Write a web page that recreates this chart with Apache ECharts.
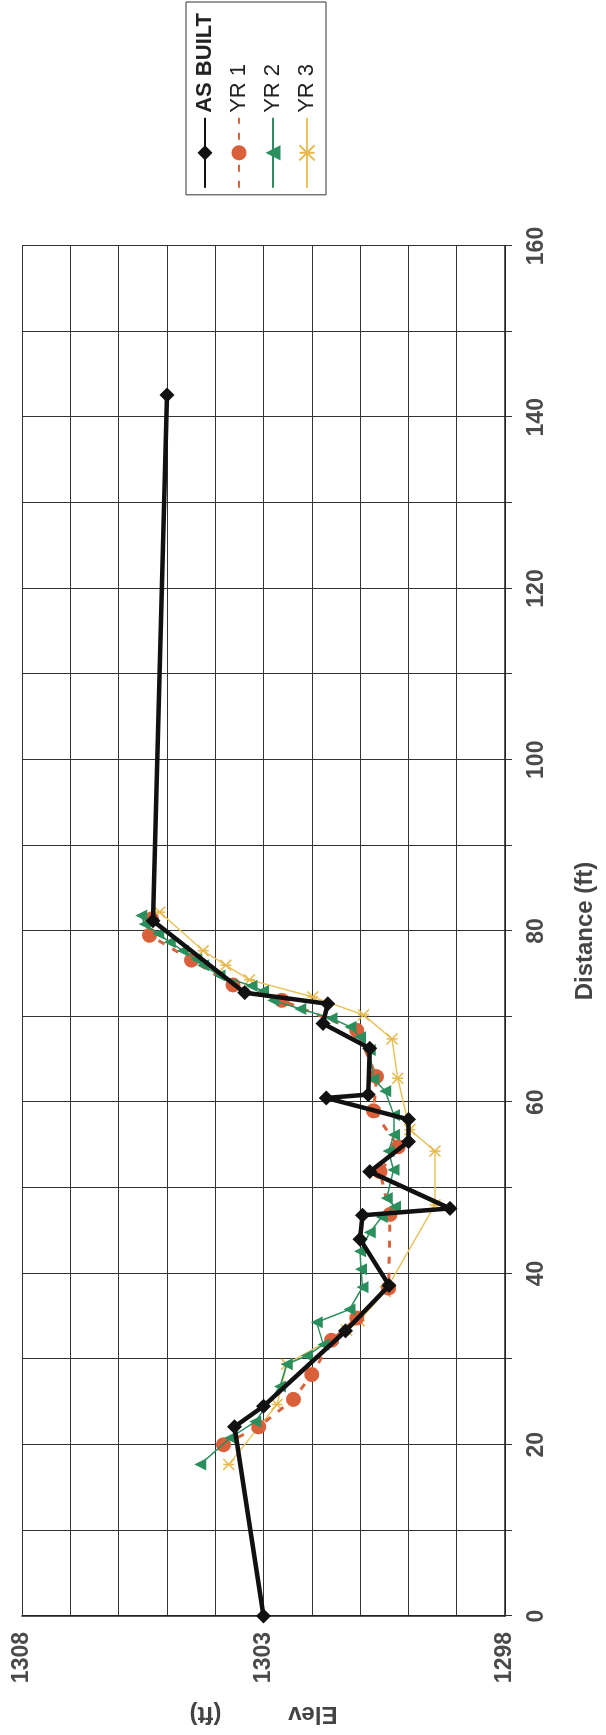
<!DOCTYPE html>
<html>
<head>
<meta charset="utf-8">
<script src="https://cdn.jsdelivr.net/npm/echarts@6/dist/echarts.min.js"></script>
<style>
html,body{margin:0;padding:0;background:#fff;width:606px;height:1735px;overflow:hidden;}
#chart{position:absolute;left:0;top:0;width:1735px;height:606px;transform-origin:0 0;transform:translate(0,1735px) rotate(-90deg);}
</style>
</head>
<body>
<div id="chart"></div>
<script>
// Distance (ft) and elevation (ft) for each survey
const asBuiltDist = [0, 22.1, 24.5, 33.3, 38.6, 44.0, 46.8, 47.6, 51.9, 55.4, 58.0, 60.5, 60.9, 66.3, 69.2, 71.5, 72.8, 81.2, 142.6];
const asBuiltElev = [1303.0, 1303.6, 1303.0, 1301.3, 1300.4, 1301.0, 1300.95, 1299.14, 1300.8, 1300.0, 1300.0, 1301.7, 1300.83, 1300.8, 1301.77, 1301.67, 1303.39, 1305.29, 1305.0];

const yr1Dist = [20.0, 22.1, 25.3, 28.2, 32.2, 34.8, 38.3, 46.9, 51.9, 54.8, 59.0, 63.0, 68.4, 71.9, 73.7, 76.6, 79.5, 81.4];
const yr1Elev = [1303.83, 1303.1, 1302.38, 1302.0, 1301.59, 1301.07, 1300.41, 1300.38, 1300.59, 1300.21, 1300.72, 1300.66, 1301.07, 1302.62, 1303.63, 1304.49, 1305.36, 1305.32];

const yr2Dist = [17.7, 20.8, 22.7, 26.8, 29.4, 30.4, 31.7, 34.3, 35.8, 38.4, 40.5, 42.6, 44.8, 46.6, 47.8, 48.8, 52.1, 54.3, 56.2, 58.5, 61.3, 62.7, 66.1, 67.6, 68.8, 69.8, 70.9, 71.9, 73.0, 73.6, 74.8, 76.0, 76.7, 77.7, 78.7, 79.7, 80.8, 81.8];
const yr2Elev = [1304.31, 1303.69, 1303.17, 1302.66, 1302.52, 1302.1, 1301.76, 1301.9, 1301.22, 1300.95, 1300.98, 1301.0, 1300.8, 1300.55, 1300.28, 1300.45, 1300.31, 1300.41, 1300.3, 1300.3, 1300.48, 1300.72, 1300.8, 1301.0, 1301.2, 1301.59, 1302.24, 1302.8, 1303.01, 1303.25, 1303.91, 1304.25, 1304.39, 1304.67, 1304.94, 1305.18, 1305.46, 1305.53];

const yr3Dist = [17.7, 24.7, 29.4, 33.4, 34.5, 37.9, 48.0, 54.3, 56.8, 62.8, 67.4, 70.2, 72.3, 74.3, 76.0, 77.7, 82.2];
const yr3Elev = [1303.72, 1302.72, 1302.52, 1301.28, 1301.02, 1300.48, 1299.45, 1299.45, 1299.97, 1300.22, 1300.34, 1300.93, 1301.98, 1303.29, 1303.78, 1304.25, 1305.15];

const distTickLabels = [0, 20, 40, 60, 80, 100, 120, 140, 160];
const elevTickLabels = [1298, 1303, 1308];
const seriesNames = ['AS BUILT', 'YR 1', 'YR 2', 'YR 3'];

function pairs(xs, ys) { return xs.map((x, i) => [x, ys[i]]); }

const FONT = '"Liberation Sans", Arial, sans-serif';
const chart = echarts.init(document.getElementById('chart'), null, {renderer: 'canvas'});

chart.setOption({
  backgroundColor: '#ffffff',
  animation: false,
  grid: {left: 119, right: 246, top: 22, bottom: 101, containLabel: false},
  legend: {
    orient: 'vertical',
    right: 2,
    top: 186,
    padding: [8, 11, 8, 6],
    itemGap: 12,
    itemWidth: 70,
    itemHeight: 19,
    borderColor: '#333',
    borderWidth: 1,
    backgroundColor: '#fff',
    textStyle: {fontFamily: FONT, fontSize: 22, color: '#222', lineHeight: 22},
    data: [
      {name: seriesNames[0], textStyle: {fontWeight: 'bold'}},
      {name: seriesNames[1]},
      {name: seriesNames[2]},
      {name: seriesNames[3]}
    ]
  },
  xAxis: {
    type: 'value',
    min: 0, max: 160, interval: 10,
    name: 'Distance (ft)',
    nameLocation: 'middle',
    nameGap: 68,
    nameTextStyle: {fontFamily: FONT, fontSize: 24, fontWeight: 'bold', color: '#444'},
    axisLine: {show: true, onZero: false, lineStyle: {color: '#222', width: 1.5}},
    axisTick: {show: true, inside: false, length: 7, lineStyle: {color: '#333', width: 1}},
    axisLabel: {
      margin: 20,
      fontFamily: FONT, fontSize: 23, fontWeight: 'bold', color: '#4a4a4a',
      formatter: v => distTickLabels.includes(v) ? String(v) : ''
    },
    splitLine: {show: true, lineStyle: {color: '#333', width: 1}}
  },
  yAxis: {
    type: 'value',
    min: 1298, max: 1308, interval: 1,
    name: 'Elev' + '\u00a0'.repeat(10) + '(ft)',
    nameLocation: 'middle',
    nameRotate: 90,
    nameGap: 86,
    nameTextStyle: {fontFamily: FONT, fontSize: 24, fontWeight: 'bold', color: '#444'},
    axisLine: {show: true, onZero: false, lineStyle: {color: '#222', width: 1.5}},
    axisTick: {show: false},
    axisLabel: {
      margin: 16,
      fontFamily: FONT, fontSize: 23, fontWeight: 'bold', color: '#4a4a4a',
      formatter: v => elevTickLabels.includes(v) ? String(v) : ''
    },
    splitLine: {show: true, lineStyle: {color: '#333', width: 1}}
  },
  series: [
    {
      name: seriesNames[3], type: 'line', z: 2,
      data: pairs(yr3Dist, yr3Elev),
      symbol: 'path://M0,0L10,10M10,0L0,10M5,0L5,10',
      symbolSize: 11,
      lineStyle: {color: '#e9c35e', width: 1.5},
      itemStyle: {color: 'rgba(0,0,0,0)', borderColor: '#e6b94a', borderWidth: 1.5}
    },
    {
      name: seriesNames[1], type: 'line', z: 3,
      data: pairs(yr1Dist, yr1Elev),
      symbol: 'circle', symbolSize: 15,
      lineStyle: {color: '#d6643f', width: 3, type: [7, 9]},
      itemStyle: {color: '#d9603b', borderWidth: 0}
    },
    {
      name: seriesNames[2], type: 'line', z: 4,
      data: pairs(yr2Dist, yr2Elev),
      symbol: 'triangle', symbolSize: 12,
      lineStyle: {color: '#2b8e5e', width: 1.5},
      itemStyle: {color: '#2a8f5c', borderWidth: 0}
    },
    {
      name: seriesNames[0], type: 'line', z: 5,
      data: pairs(asBuiltDist, asBuiltElev),
      symbol: 'diamond', symbolSize: 15,
      lineStyle: {color: '#111', width: 4.5},
      itemStyle: {color: '#111', borderWidth: 0}
    }
  ]
});
</script>
</body>
</html>
